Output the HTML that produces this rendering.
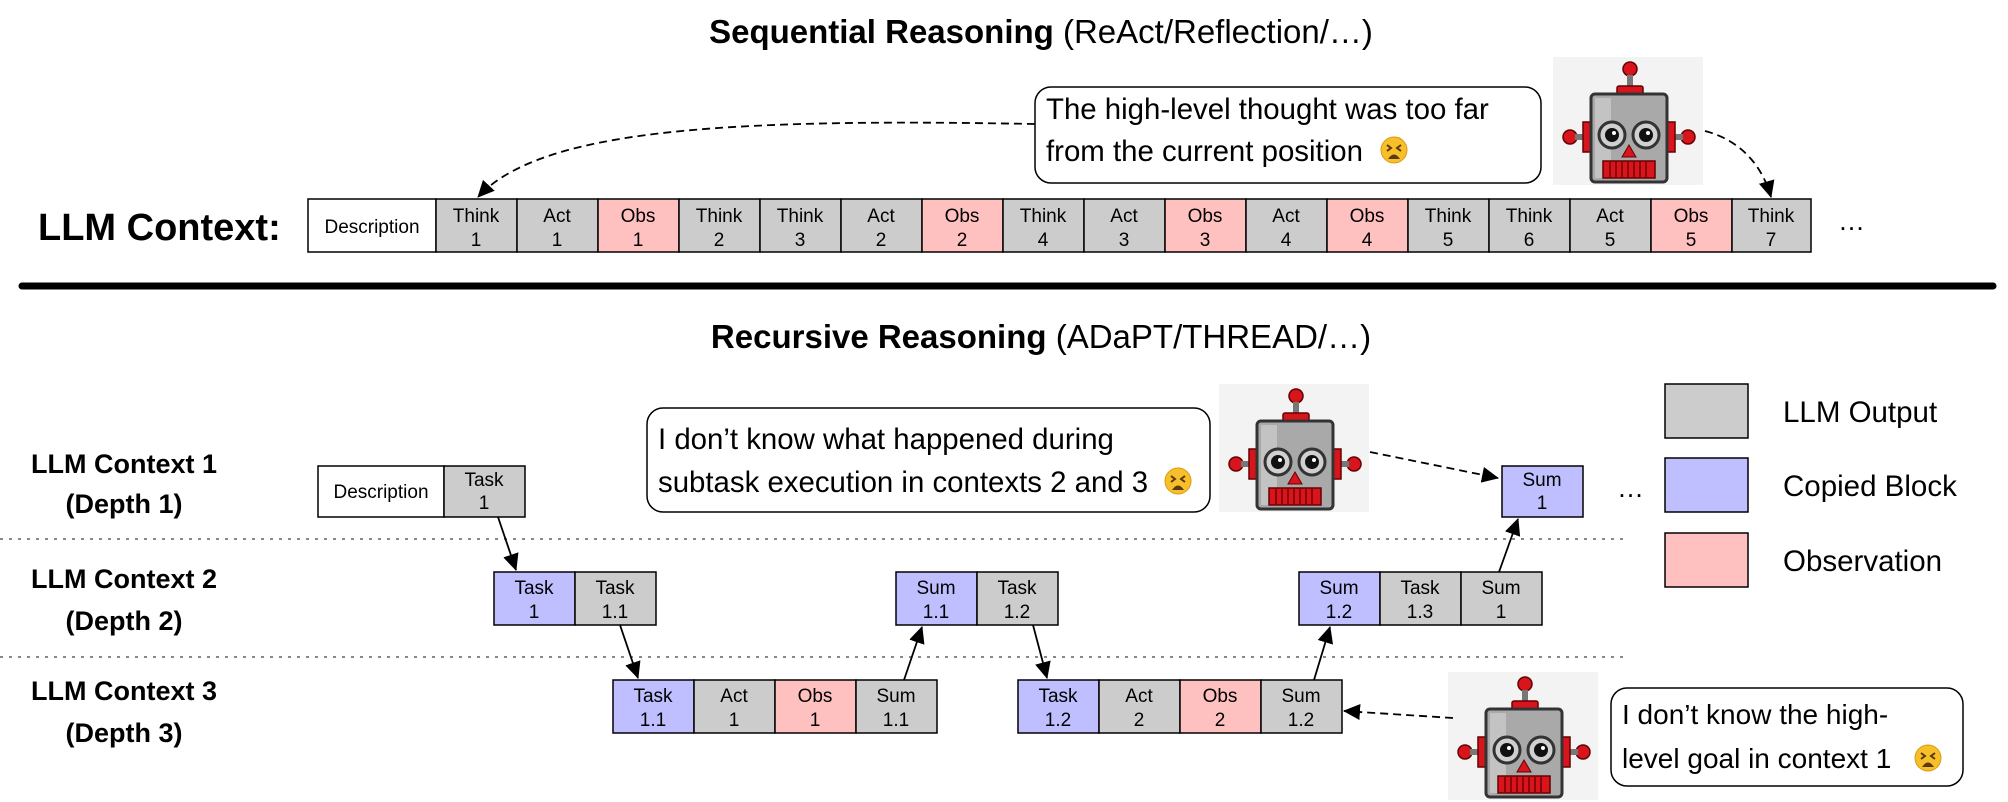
<!DOCTYPE html>
<html><head><meta charset="utf-8"><style>
html,body{margin:0;padding:0;background:#fff;}
svg{display:block;}
text{font-family:"Liberation Sans",Arial,sans-serif;fill:#000;}
.c{font-size:19px;text-anchor:middle;}
.lbl{font-size:27px;font-weight:bold;text-anchor:middle;}
.bt{font-size:29.4px;}
</style></head><body>
<svg width="2008" height="802" viewBox="0 0 2008 802" xmlns="http://www.w3.org/2000/svg">
<defs>
<marker id="ah2" markerWidth="18" markerHeight="18" refX="16" refY="9" orient="auto" markerUnits="userSpaceOnUse" viewBox="0 0 18 18">
<path d="M0,1 L17,9 L0,17 z" fill="#000"/></marker>
<g id="robot">
<rect x="0" y="0" width="150" height="128" fill="#f3f3f3"/>
<circle cx="77" cy="12" r="7" fill="#d8141c" stroke="#600" stroke-width="1.5"/>
<rect x="74" y="18" width="6" height="13" fill="#777"/>
<rect x="64" y="29" width="26" height="9" rx="2" fill="#d8141c" stroke="#600" stroke-width="1.5"/>
<circle cx="17" cy="80" r="7" fill="#d8141c" stroke="#600" stroke-width="1.5"/>
<circle cx="135" cy="80" r="7" fill="#d8141c" stroke="#600" stroke-width="1.5"/>
<rect x="22" y="77" width="10" height="6" fill="#777"/>
<rect x="120" y="77" width="10" height="6" fill="#777"/>
<rect x="30" y="65" width="9" height="30" fill="#d8141c" stroke="#600" stroke-width="1.5"/>
<rect x="113" y="65" width="9" height="30" fill="#d8141c" stroke="#600" stroke-width="1.5"/>
<rect x="38" y="37" width="76" height="88" rx="4" fill="#a9a9a9" stroke="#333" stroke-width="3"/>
<rect x="42" y="41" width="16" height="80" fill="#c3c3c3"/>
<circle cx="59" cy="78" r="13" fill="#d0d0d0" stroke="#333" stroke-width="3"/>
<circle cx="93" cy="78" r="13" fill="#d0d0d0" stroke="#333" stroke-width="3"/>
<circle cx="59" cy="78" r="7" fill="#111"/><circle cx="93" cy="78" r="7" fill="#111"/>
<circle cx="61" cy="76" r="2" fill="#fff"/><circle cx="95" cy="76" r="2" fill="#fff"/>
<polygon points="76,88 69,100 83,100" fill="#d8141c" stroke="#600" stroke-width="1"/>
<rect x="50" y="104" width="52" height="17" fill="#d8141c" stroke="#600" stroke-width="1.5"/>
<path d="M57,105V120M63,105V120M69,105V120M75,105V120M81,105V120M87,105V120M93,105V120" stroke="#700" stroke-width="1.5"/>
</g>
<g id="emo">
<circle cx="0" cy="0" r="13" fill="#f7c02a" stroke="#d99a10" stroke-width="1"/>
<path d="M-7,-5 L-3,-2 L-7,1 M7,-5 L3,-2 L7,1" stroke="#5a3a10" stroke-width="2" fill="none"/>
<path d="M-6,9 Q0,0 6,9 z" fill="#5a3a10"/>
</g>
</defs>

<text x="1041" y="43" text-anchor="middle" style="font-size:33px"><tspan font-weight="bold">Sequential Reasoning</tspan> (ReAct/Reflection/…)</text>
<text x="1041" y="348" text-anchor="middle" style="font-size:33px"><tspan font-weight="bold">Recursive Reasoning</tspan> (ADaPT/THREAD/…)</text>

<text x="38" y="240" style="font-size:38px;font-weight:bold">LLM Context:</text>
<g stroke="#000" stroke-width="1.5">
<rect x="308" y="199" width="128" height="53" fill="#fff"/>
<rect x="436" y="199" width="81" height="53" fill="#ccc"/>
<rect x="517" y="199" width="81" height="53" fill="#ccc"/>
<rect x="598" y="199" width="81" height="53" fill="#ffc0c0"/>
<rect x="679" y="199" width="81" height="53" fill="#ccc"/>
<rect x="760" y="199" width="81" height="53" fill="#ccc"/>
<rect x="841" y="199" width="81" height="53" fill="#ccc"/>
<rect x="922" y="199" width="81" height="53" fill="#ffc0c0"/>
<rect x="1003" y="199" width="81" height="53" fill="#ccc"/>
<rect x="1084" y="199" width="81" height="53" fill="#ccc"/>
<rect x="1165" y="199" width="81" height="53" fill="#ffc0c0"/>
<rect x="1246" y="199" width="81" height="53" fill="#ccc"/>
<rect x="1327" y="199" width="81" height="53" fill="#ffc0c0"/>
<rect x="1408" y="199" width="81" height="53" fill="#ccc"/>
<rect x="1489" y="199" width="81" height="53" fill="#ccc"/>
<rect x="1570" y="199" width="81" height="53" fill="#ccc"/>
<rect x="1651" y="199" width="81" height="53" fill="#ffc0c0"/>
<rect x="1732" y="199" width="79" height="53" fill="#ccc"/>
</g>
<text x="372" y="233" class="c">Description</text>
<text x="476" y="222" class="c">Think</text><text x="476" y="246" class="c">1</text>
<text x="557" y="222" class="c">Act</text><text x="557" y="246" class="c">1</text>
<text x="638" y="222" class="c">Obs</text><text x="638" y="246" class="c">1</text>
<text x="719" y="222" class="c">Think</text><text x="719" y="246" class="c">2</text>
<text x="800" y="222" class="c">Think</text><text x="800" y="246" class="c">3</text>
<text x="881" y="222" class="c">Act</text><text x="881" y="246" class="c">2</text>
<text x="962" y="222" class="c">Obs</text><text x="962" y="246" class="c">2</text>
<text x="1043" y="222" class="c">Think</text><text x="1043" y="246" class="c">4</text>
<text x="1124" y="222" class="c">Act</text><text x="1124" y="246" class="c">3</text>
<text x="1205" y="222" class="c">Obs</text><text x="1205" y="246" class="c">3</text>
<text x="1286" y="222" class="c">Act</text><text x="1286" y="246" class="c">4</text>
<text x="1367" y="222" class="c">Obs</text><text x="1367" y="246" class="c">4</text>
<text x="1448" y="222" class="c">Think</text><text x="1448" y="246" class="c">5</text>
<text x="1529" y="222" class="c">Think</text><text x="1529" y="246" class="c">6</text>
<text x="1610" y="222" class="c">Act</text><text x="1610" y="246" class="c">5</text>
<text x="1691" y="222" class="c">Obs</text><text x="1691" y="246" class="c">5</text>
<text x="1771" y="222" class="c">Think</text><text x="1771" y="246" class="c">7</text>
<text x="1838" y="230" style="font-size:27px">…</text>

<rect x="1035" y="87" width="506" height="96" rx="16" fill="#fff" stroke="#000" stroke-width="1.5"/>
<text x="1046" y="119" class="bt">The high-level thought was too far</text>
<text x="1046" y="161" class="bt">from the current position</text>
<use href="#emo" x="1394" y="150"/>
<use href="#robot" transform="translate(1553,57)"/>
<path d="M1035,124 C720,118 540,130 478,197" fill="none" stroke="#000" stroke-width="1.8" stroke-dasharray="8,5" marker-end="url(#ah2)"/>
<path d="M1705,131 C1740,140 1762,165 1771,197" fill="none" stroke="#000" stroke-width="1.8" stroke-dasharray="8,5" marker-end="url(#ah2)"/>

<line x1="22" y1="286" x2="1993" y2="286" stroke="#000" stroke-width="7" stroke-linecap="round"/>

<text x="124" y="473" class="lbl">LLM Context 1</text>
<text x="124" y="513" class="lbl">(Depth 1)</text>
<text x="124" y="588" class="lbl">LLM Context 2</text>
<text x="124" y="630" class="lbl">(Depth 2)</text>
<text x="124" y="700" class="lbl">LLM Context 3</text>
<text x="124" y="742" class="lbl">(Depth 3)</text>

<line x1="0" y1="539" x2="1624" y2="539" stroke="#888" stroke-width="2" stroke-dasharray="3,6"/>
<line x1="0" y1="657" x2="1624" y2="657" stroke="#888" stroke-width="2" stroke-dasharray="3,6"/>

<g stroke="#000" stroke-width="1.5">
<rect x="318" y="466" width="126" height="51" fill="#fff"/>
<rect x="444" y="466" width="81" height="51" fill="#ccc"/>
<rect x="1502" y="466" width="81" height="51" fill="#bfbfff"/>
<rect x="494" y="572" width="81" height="53" fill="#bfbfff"/>
<rect x="575" y="572" width="81" height="53" fill="#ccc"/>
<rect x="896" y="572" width="81" height="53" fill="#bfbfff"/>
<rect x="977" y="572" width="81" height="53" fill="#ccc"/>
<rect x="1299" y="572" width="81" height="53" fill="#bfbfff"/>
<rect x="1380" y="572" width="81" height="53" fill="#ccc"/>
<rect x="1461" y="572" width="81" height="53" fill="#ccc"/>
<rect x="613" y="680" width="81" height="53" fill="#bfbfff"/>
<rect x="694" y="680" width="81" height="53" fill="#ccc"/>
<rect x="775" y="680" width="81" height="53" fill="#ffc0c0"/>
<rect x="856" y="680" width="81" height="53" fill="#ccc"/>
<rect x="1018" y="680" width="81" height="53" fill="#bfbfff"/>
<rect x="1099" y="680" width="81" height="53" fill="#ccc"/>
<rect x="1180" y="680" width="81" height="53" fill="#ffc0c0"/>
<rect x="1261" y="680" width="81" height="53" fill="#ccc"/>
<rect x="1665" y="384" width="83" height="54" fill="#ccc"/>
<rect x="1665" y="458" width="83" height="54" fill="#bfbfff"/>
<rect x="1665" y="533" width="83" height="54" fill="#ffc0c0"/>
</g>
<text x="381" y="498" class="c">Description</text>
<text x="484" y="486" class="c">Task</text><text x="484" y="509" class="c">1</text>
<text x="1542" y="486" class="c">Sum</text><text x="1542" y="509" class="c">1</text>
<text x="1617" y="497" style="font-size:27px">…</text>

<text x="534" y="594" class="c">Task</text><text x="534" y="618" class="c">1</text>
<text x="615" y="594" class="c">Task</text><text x="615" y="618" class="c">1.1</text>
<text x="936" y="594" class="c">Sum</text><text x="936" y="618" class="c">1.1</text>
<text x="1017" y="594" class="c">Task</text><text x="1017" y="618" class="c">1.2</text>
<text x="1339" y="594" class="c">Sum</text><text x="1339" y="618" class="c">1.2</text>
<text x="1420" y="594" class="c">Task</text><text x="1420" y="618" class="c">1.3</text>
<text x="1501" y="594" class="c">Sum</text><text x="1501" y="618" class="c">1</text>

<text x="653" y="702" class="c">Task</text><text x="653" y="726" class="c">1.1</text>
<text x="734" y="702" class="c">Act</text><text x="734" y="726" class="c">1</text>
<text x="815" y="702" class="c">Obs</text><text x="815" y="726" class="c">1</text>
<text x="896" y="702" class="c">Sum</text><text x="896" y="726" class="c">1.1</text>
<text x="1058" y="702" class="c">Task</text><text x="1058" y="726" class="c">1.2</text>
<text x="1139" y="702" class="c">Act</text><text x="1139" y="726" class="c">2</text>
<text x="1220" y="702" class="c">Obs</text><text x="1220" y="726" class="c">2</text>
<text x="1301" y="702" class="c">Sum</text><text x="1301" y="726" class="c">1.2</text>

<text x="1783" y="422" style="font-size:29.5px">LLM Output</text>
<text x="1783" y="496" style="font-size:29.5px">Copied Block</text>
<text x="1783" y="571" style="font-size:29.5px">Observation</text>

<g stroke="#000" stroke-width="1.8" fill="none">
<line x1="498" y1="517" x2="516" y2="570" marker-end="url(#ah2)"/>
<line x1="620" y1="625" x2="638" y2="678" marker-end="url(#ah2)"/>
<line x1="904" y1="680" x2="922" y2="627" marker-end="url(#ah2)"/>
<line x1="1033" y1="625" x2="1047" y2="678" marker-end="url(#ah2)"/>
<line x1="1314" y1="680" x2="1330" y2="627" marker-end="url(#ah2)"/>
<line x1="1499" y1="572" x2="1518" y2="519" marker-end="url(#ah2)"/>
</g>

<rect x="647" y="408" width="563" height="104" rx="16" fill="#fff" stroke="#000" stroke-width="1.5"/>
<text x="658" y="449" style="font-size:29.4px">I don’t know what happened during</text>
<text x="658" y="492" style="font-size:29.4px">subtask execution in contexts 2 and 3</text>
<use href="#emo" x="1178" y="481"/>
<use href="#robot" transform="translate(1219,384)"/>
<path d="M1370,452 L1498,478" fill="none" stroke="#000" stroke-width="1.8" stroke-dasharray="8,5" marker-end="url(#ah2)"/>

<rect x="1611" y="688" width="352" height="98" rx="16" fill="#fff" stroke="#000" stroke-width="1.5"/>
<text x="1622" y="724" style="font-size:28px">I don’t know the high-</text>
<text x="1622" y="768" style="font-size:28px">level goal in context 1</text>
<use href="#emo" x="1928" y="758"/>
<use href="#robot" transform="translate(1448,672)"/>
<path d="M1453,718 L1344,711" fill="none" stroke="#000" stroke-width="1.8" stroke-dasharray="8,5" marker-end="url(#ah2)"/>
</svg>
</body></html>
